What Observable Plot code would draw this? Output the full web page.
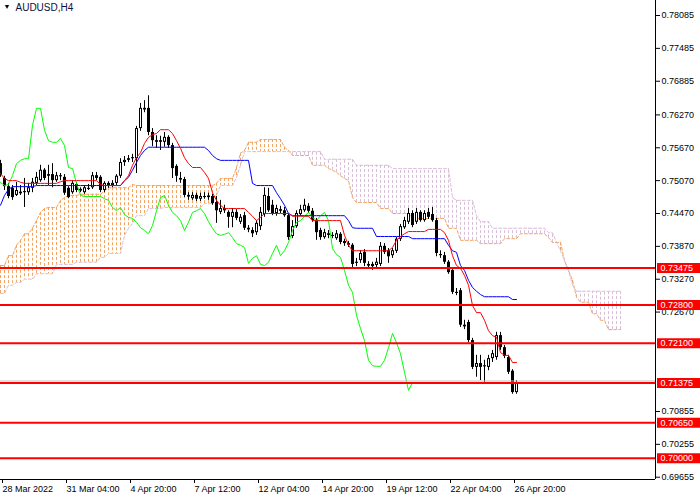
<!DOCTYPE html>
<html>
<head>
<meta charset="utf-8">
<script src="https://cdn.jsdelivr.net/npm/d3@7"></script>
<script src="https://cdn.jsdelivr.net/npm/@observablehq/plot@0.6"></script>
<style>
  body { margin: 0; background: #fff; }
  #chart { width: 700px; height: 500px; }
</style>
</head>
<body>
<div id="chart"></div>
<script>
// AUDUSD H4, una vela por barra (indice 0 = 28 Mar 12:00)
const opens = [
  .7538,.7511,.7496,.7493,.7480,.7486,.7485,.7485,.7493,.7502,
  .7507,.7526,.7515,.7518,.7507,.7516,.7513,.7493,.7485,.7500,
  .7488,.7485,.7493,.7494,.7516,.7513,.7489,.7502,.7498,.7502,
  .7515,.7540,.7544,.7547,.7547,.7602,.7639,.7639,.7595,.7580,
  .7577,.7577,.7586,.7571,.7533,.7511,.7509,.7480,.7474,.7480,
  .7473,.7478,.7476,.7478,.7467,.7449,.7456,.7449,.7440,.7449,
  .7431,.7443,.7420,.7416,.7412,.7423,.7445,.7478,.7462,.7447,
  .7454,.7452,.7443,.7405,.7423,.7445,.7452,.7460,.7451,.7434,
  .7416,.7403,.7410,.7407,.7401,.7409,.7396,.7392,.7389,.7358,
  .7361,.7376,.7354,.7354,.7352,.7354,.7387,.7379,.7370,.7378,
  .7400,.7421,.7431,.7447,.7431,.7449,.7434,.7449,.7445,.7434,
  .7372,.7370,.7358,.7343,.7303,.7306,.7243,.7248,.7215,.7166,
  .7173,.7169,.7166,.7182,.7184,.7224,.7202,.7184,.7159,.7120
];
const highs = [
  .7544,.7515,.7502,.7498,.7504,.7498,.7511,.7502,.7511,.7522,
  .7535,.7529,.7535,.7538,.7522,.7520,.7518,.7496,.7507,.7504,
  .7494,.7498,.7500,.7522,.7522,.7516,.7505,.7505,.7507,.7518,
  .7547,.7551,.7553,.7555,.7606,.7648,.7653,.7662,.7602,.7589,
  .7588,.7595,.7589,.7575,.7536,.7522,.7513,.7485,.7485,.7484,
  .7484,.7485,.7484,.7482,.7478,.7471,.7462,.7452,.7456,.7454,
  .7445,.7449,.7425,.7421,.7434,.7458,.7494,.7493,.7471,.7462,
  .7460,.7458,.7447,.7434,.7452,.7462,.7473,.7465,.7456,.7438,
  .7420,.7418,.7416,.7412,.7416,.7412,.7400,.7396,.7392,.7365,
  .7379,.7381,.7359,.7358,.7365,.7394,.7392,.7383,.7383,.7403,
  .7427,.7440,.7456,.7452,.7456,.7452,.7452,.7456,.7458,.7438,
  .7379,.7376,.7361,.7347,.7310,.7310,.7252,.7252,.7219,.7188,
  .7188,.7179,.7188,.7197,.7230,.7230,.7206,.7188,.7162,.7142
];
const lows = [
  .7513,.7489,.7474,.7471,.7478,.7480,.7458,.7480,.7485,.7498,
  .7504,.7507,.7498,.7494,.7504,.7507,.7480,.7474,.7482,.7485,
  .7485,.7482,.7489,.7491,.7507,.7485,.7485,.7493,.7494,.7498,
  .7511,.7533,.7540,.7540,.7520,.7597,.7631,.7589,.7569,.7566,
  .7562,.7568,.7566,.7511,.7504,.7502,.7476,.7471,.7471,.7469,
  .7469,.7473,.7471,.7462,.7429,.7445,.7447,.7420,.7421,.7434,
  .7427,.7416,.7412,.7403,.7407,.7416,.7440,.7449,.7443,.7442,
  .7447,.7440,.7398,.7401,.7420,.7442,.7449,.7447,.7431,.7398,
  .7398,.7400,.7401,.7401,.7398,.7390,.7387,.7385,.7348,.7350,
  .7356,.7350,.7347,.7343,.7347,.7350,.7372,.7356,.7365,.7374,
  .7396,.7418,.7427,.7421,.7427,.7431,.7431,.7436,.7431,.7368,
  .7365,.7354,.7336,.7299,.7297,.7239,.7235,.7211,.7162,.7148,
  .7142,.7137,.7160,.7175,.7179,.7197,.7182,.7153,.7117,.7117
];
const closes = [
  .7516,.7496,.7478,.7476,.7489,.7483,.7487,.7494,.7504,.7513,
  .7526,.7511,.7518,.7507,.7516,.7514,.7484,.7476,.7502,.7489,
  .7491,.7494,.7491,.7516,.7511,.7489,.7502,.7498,.7502,.7515,
  .7540,.7544,.7547,.7549,.7602,.7639,.7636,.7595,.7580,.7577,
  .7580,.7586,.7571,.7529,.7515,.7508,.7480,.7477,.7480,.7473,
  .7478,.7476,.7479,.7465,.7452,.7456,.7452,.7440,.7449,.7438,
  .7440,.7420,.7417,.7410,.7429,.7449,.7480,.7452,.7447,.7456,
  .7451,.7443,.7403,.7423,.7447,.7454,.7462,.7451,.7434,.7412,
  .7403,.7412,.7407,.7405,.7410,.7394,.7392,.7389,.7354,.7356,
  .7374,.7356,.7351,.7350,.7358,.7387,.7376,.7368,.7379,.7400,
  .7423,.7434,.7447,.7425,.7449,.7434,.7447,.7440,.7434,.7374,
  .7370,.7358,.7339,.7303,.7301,.7243,.7240,.7215,.7166,.7173,
  .7166,.7167,.7182,.7191,.7224,.7202,.7186,.7157,.7120,.71375
];

// Ichimoku: tenkan (rojo), kijun (azul), chikou (verde)
const tenkan = [
  .7520,.7511,.7507,.7507,.7507,.7504,.7502,.7502,.7502,.7502,
  .7502,.7502,.7502,.7502,.7502,.7505,.7507,.7507,.7507,.7507,
  .7507,.7507,.7507,.7507,.7507,.7500,.7498,.7498,.7498,.7498,
  .7498,.7507,.7516,.7535,.7549,.7558,.7575,.7586,.7591,.7593,
  .7600,.7600,.7600,.7593,.7580,.7566,.7549,.7538,.7531,.7531,
  .7531,.7522,.7511,.7485,.7471,.7462,.7456,.7456,.7456,.7456,
  .7456,.7456,.7449,.7442,.7434,.7440,.7447,.7447,.7447,.7447,
  .7447,.7447,.7447,.7442,.7442,.7442,.7442,.7442,.7434,.7434,
  .7434,.7434,.7434,.7434,.7434,.7434,.7407,.7389,.7379,.7379,
  .7379,.7379,.7379,.7379,.7379,.7379,.7379,.7379,.7385,.7398,
  .7405,.7410,.7414,.7414,.7414,.7414,.7414,.7418,.7418,.7418,
  .7418,.7412,.7398,.7370,.7352,.7347,.7334,.7316,.7279,.7266,
  .7266,.7252,.7233,.7224,.7221,.7193,.7188,.7188,.7175,.7175
];
const kijun = [
  .7462,.7480,.7491,.7496,.7496,.7496,.7496,.7496,.7496,.7498,
  .7498,.7498,.7498,.7498,.7498,.7498,.7498,.7498,.7498,.7498,
  .7498,.7498,.7498,.7498,.7498,.7498,.7498,.7498,.7498,.7498,
  .7498,.7507,.7513,.7526,.7540,.7553,.7562,.7568,.7568,.7568,
  .7568,.7568,.7568,.7568,.7568,.7568,.7568,.7568,.7568,.7568,
  .7568,.7568,.7562,.7553,.7547,.7544,.7544,.7544,.7544,.7544,
  .7544,.7544,.7544,.7502,.7498,.7498,.7498,.7498,.7498,.7485,
  .7474,.7462,.7447,.7443,.7443,.7443,.7443,.7443,.7443,.7443,
  .7443,.7443,.7443,.7443,.7443,.7443,.7443,.7434,.7421,.7420,
  .7420,.7420,.7420,.7420,.7405,.7405,.7405,.7405,.7405,.7405,
  .7405,.7405,.7405,.7401,.7401,.7401,.7401,.7401,.7401,.7401,
  .7401,.7401,.7389,.7379,.7376,.7352,.7343,.7325,.7312,.7305,
  .7299,.7295,.7295,.7295,.7295,.7295,.7295,.7295,.7290,.7290
];
const chikou = [
  .7504,.7498,.7500,.7516,.7538,.7544,.7547,.7547,.7608,.7639,
  .7639,.7599,.7580,.7577,.7577,.7584,.7571,.7531,.7529,.7502,
  .7480,.7478,.7478,.7478,.7478,.7478,.7474,.7471,.7458,.7452,
  .7458,.7445,.7440,.7438,.7431,.7421,.7416,.7410,.7425,.7452,
  .7476,.7480,.7462,.7449,.7443,.7434,.7416,.7431,.7449,.7452,
  .7456,.7447,.7432,.7420,.7410,.7407,.7409,.7412,.7403,.7392,
  .7389,.7385,.7356,.7365,.7370,.7354,.7352,.7358,.7374,.7389,
  .7370,.7379,.7394,.7416,.7431,.7434,.7442,.7449,.7440,.7434,
  .7443,.7449,.7434,.7383,.7372,.7367,.7343,.7316,.7303,.7261,
  .7237,.7215,.7179,.7169,.7168,.7168,.7179,.7202,.7228,.7211,
  .7191,.7157,.7124,.7138
];
// nube: senkou A y B (26 barras adelante)
const spanA = [
  .7352,.7352,.7370,.7370,.7389,.7398,.7410,.7410,.7420,.7434,
  .7449,.7456,.7458,.7458,.7458,.7471,.7476,.7480,.7480,.7480,
  .7482,.7482,.7482,.7482,.7482,.7482,.7489,.7494,.7494,.7494,
  .7494,.7494,.7494,.7500,.7498,.7498,.7498,.7498,.7498,.7498,
  .7498,.7498,.7498,.7498,.7498,.7498,.7498,.7498,.7498,.7498,
  .7498,.7498,.7498,.7498,.7502,.7511,.7511,.7511,.7511,.7531,
  .7557,.7562,.7577,.7577,.7577,.7582,.7582,.7582,.7582,.7582,
  .7582,.7568,.7562,.7553,.7553,.7553,.7553,.7553,.7535,.7535,
  .7535,.7535,.7529,.7526,.7522,.7516,.7511,.7507,.7476,.7467,
  .7467,.7467,.7467,.7467,.7467,.7456,.7456,.7456,.7447,.7447,
  .7447,.7447,.7447,.7438,.7438,.7438,.7438,.7438,.7438,.7438,
  .7438,.7438,.7420,.7420,.7420,.7398,.7398,.7398,.7398,.7398,
  .7392,.7392,.7392,.7392,.7392,.7392,.7401,.7401,.7401,.7401,
  .7410,.7410,.7410,.7410,.7410,.7410,.7410,.7403,.7394,.7394,
  .7394,.7361,.7343,.7325,.7294,.7285,.7285,.7285,.7264,.7264,
  .7252,.7252,.7235,.7235,.7235,.7235
];
const spanB = [
  .7301,.7301,.7316,.7316,.7321,.7321,.7327,.7327,.7327,.7337,
  .7337,.7337,.7337,.7337,.7354,.7354,.7354,.7354,.7354,.7358,
  .7358,.7358,.7358,.7358,.7358,.7367,.7367,.7374,.7374,.7374,
  .7374,.7407,.7420,.7429,.7443,.7443,.7443,.7456,.7456,.7456,
  .7456,.7458,.7458,.7458,.7458,.7458,.7458,.7458,.7458,.7458,
  .7458,.7465,.7465,.7465,.7480,.7498,.7498,.7498,.7498,.7513,
  .7535,.7560,.7560,.7560,.7560,.7560,.7560,.7560,.7560,.7560,
  .7560,.7560,.7560,.7560,.7560,.7560,.7560,.7560,.7560,.7560,
  .7560,.7546,.7546,.7546,.7546,.7546,.7546,.7546,.7546,.7535,
  .7535,.7535,.7535,.7535,.7535,.7535,.7535,.7535,.7529,.7529,
  .7529,.7529,.7529,.7529,.7529,.7529,.7529,.7529,.7529,.7529,
  .7529,.7529,.7529,.7476,.7471,.7471,.7471,.7471,.7471,.7443,
  .7432,.7432,.7432,.7420,.7420,.7420,.7420,.7420,.7420,.7420,
  .7420,.7420,.7420,.7420,.7420,.7420,.7420,.7412,.7412,.7394,
  .7379,.7361,.7343,.7316,.7305,.7305,.7305,.7305,.7305,.7305,
  .7305,.7305,.7305,.7305,.7305,.7305
];

// niveles horizontales y ejes (las marcas tapadas por las etiquetas rojas no se ven)
const levels = [0.73475, 0.72800, 0.72100, 0.71375, 0.70650, 0.70000];
const priceTicks = [0.78085, 0.77485, 0.76885, 0.76270, 0.75670, 0.75070, 0.74470, 0.73870,
                    0.73270, 0.72670, 0.70855, 0.70255, 0.69655];
const timeTicks = [0, 16, 32, 48, 64, 80, 96, 112, 128];
const timeLabels = ["28 Mar 2022", "31 Mar 04:00", "4 Apr 20:00", "7 Apr 12:00", "12 Apr 04:00",
                    "14 Apr 20:00", "19 Apr 12:00", "22 Apr 04:00", "26 Apr 20:00"];

const candles = opens.map((o, i) => ({i, open: o, high: highs[i], low: lows[i], close: closes[i]}));
const cloud = spanA.map((a, i) => ({i, a, b: spanB[i]}));
const asRows = arr => arr.map((v, i) => ({i, v}));
const labelFor = new Map(timeTicks.map((t, k) => [t, timeLabels[k]]));

const xMax = 163.75;
const yMin = 0.69613, yMax = 0.78359;

let chart = Plot.plot({
  width: 700,
  height: 500,
  marginLeft: 0,
  marginRight: 45,
  marginTop: 0,
  marginBottom: 21,
  style: {fontFamily: "'Liberation Sans', Arial, sans-serif", fontSize: "9px", background: "white", color: "black", overflow: "visible"},
  x: {domain: [0, xMax], label: null},
  y: {domain: [yMin, yMax], label: null},
  marks: [
    // nube punteada
    Plot.ruleX(cloud, {x: "i", y1: "a", y2: "b", stroke: d => d.a >= d.b ? "#F4A460" : "#D8BFD8", strokeDasharray: "3,2"}),
    Plot.line(cloud, {x: "i", y: "a", stroke: "#F4A460", strokeWidth: 1, strokeDasharray: "3,2"}),
    Plot.line(cloud, {x: "i", y: "b", stroke: "#D8BFD8", strokeWidth: 1, strokeDasharray: "3,2"}),
    // velas
    Plot.ruleX(candles, {x: "i", y1: "low", y2: "high", stroke: "black"}),
    Plot.rect(candles, {x1: d => d.i - 0.25, x2: d => d.i + 0.5, y1: "open", y2: "close", fill: "black"}),
    Plot.rect(candles.filter(d => d.close > d.open), {x1: d => d.i - 0.25, x2: d => d.i + 0.5, y1: "open", y2: "close", fill: "white", inset: 1}),
    // lineas ichimoku
    Plot.line(asRows(chikou), {x: "i", y: "v", stroke: "#00FF00", strokeWidth: 1}),
    Plot.line(asRows(kijun), {x: "i", y: "v", stroke: "#0000FF", strokeWidth: 1}),
    Plot.line(asRows(tenkan), {x: "i", y: "v", stroke: "#FF0000", strokeWidth: 1}),
    // niveles
    Plot.ruleY([closes[closes.length - 1]], {stroke: "#C0C0C0", dy: -2}),
    Plot.ruleY(levels, {stroke: "#FF0000", strokeWidth: 2}),
    // bordes
    Plot.ruleX([xMax], {stroke: "black"}),
    Plot.ruleY([yMin], {stroke: "black"}),
    Plot.axisY(priceTicks, {anchor: "right", label: null, tickFormat: d => d.toFixed(5), tickSize: 4, tickPadding: 2}),
    Plot.axisX(timeTicks, {anchor: "bottom", label: null, tickFormat: d => labelFor.get(d), tickSize: 4, tickPadding: 2, textAnchor: "start", dx: 2}),
    // etiquetas rojas a la derecha
    Plot.ruleY(levels, {x1: xMax + 0.5, x2: 175, stroke: "#FF0000", strokeWidth: 10}),
    Plot.text(levels, {x: xMax + 0.5, y: d => d, text: d => d.toFixed(5), fill: "white", textAnchor: "start", dx: 3}),
    // titulo
    Plot.text(["\u25BC"], {frameAnchor: "top-left", dx: 3, dy: 4, fontSize: 7, fill: "black"}),
    Plot.text(["AUDUSD,H4"], {frameAnchor: "top-left", dx: 15, dy: 3, fontSize: 10, fill: "#10103a"})
  ]
});

d3.select('#chart').append(() => chart);
</script>
</body>
</html>
